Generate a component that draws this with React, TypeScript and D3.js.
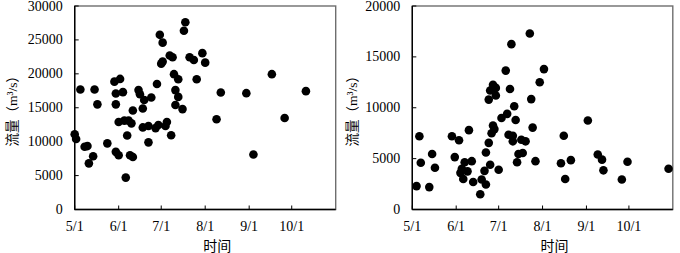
import React from "react";
import * as d3 from "d3";

// Left panel data (date M/D, flow m³/s)
const leftDates = [
  "5/1", "5/2", "5/5", "5/8", "5/10", "5/11", "5/14", "5/15", "5/17", "5/24",
  "5/29", "5/30", "5/30", "5/30", "6/1", "6/2", "6/1", "6/4", "6/5", "6/6",
  "6/7", "6/8", "6/10", "6/9", "6/11", "6/11", "6/15", "6/16", "6/18", "6/18",
  "6/19", "6/22", "6/22", "6/24", "6/27", "6/28", "6/29", "6/30", "7/2", "7/1",
  "7/2", "7/4", "7/5", "7/7", "7/8", "7/9", "7/10", "7/11", "7/11", "7/13",
  "7/13", "7/16", "7/17", "7/18", "7/21", "7/24", "7/26", "7/30", "8/1", "8/9",
  "8/12", "8/30", "9/4", "9/17", "9/26", "10/11",
];
const leftFlows = [
  11100, 10400, 17700, 9250, 9350, 6800, 7850, 17700, 15500, 9750,
  18850, 15500, 17100, 8500, 8000, 19250, 12900, 17300, 13100, 4700,
  10900, 13100, 12700, 8000, 7750, 14600, 17600, 17000, 14900, 12100,
  16150, 12300, 9900, 16500, 12000, 18500, 12450, 25750, 21800, 21500,
  24600, 12300, 12900, 22700, 10950, 22450, 19950, 17600, 15400, 16600,
  19200, 14800, 26350, 27600, 22450, 22050, 19200, 23050, 21650, 13300,
  17250, 17150, 8100, 19950, 13500, 17450,
];

// Right panel data
const rightDates = [
  "5/4", "5/6", "5/7", "5/13", "5/15", "5/17", "5/29", "5/31", "6/3", "6/4",
  "6/5", "6/6", "6/7", "6/9", "6/10", "6/12", "6/13", "6/18", "6/19", "6/21",
  "6/22", "6/22", "6/24", "6/24", "6/25", "6/25", "6/26", "6/27", "6/27", "6/28",
  "6/29", "6/29", "7/1", "7/3", "7/6", "7/7", "7/8", "7/9", "7/10", "7/11",
  "7/11", "7/12", "7/13", "7/14", "7/15", "7/17", "7/18", "7/20", "7/23", "7/24",
  "7/25", "7/27", "7/30", "8/2", "8/14", "8/16", "8/17", "8/21", "9/2", "9/9",
  "9/12", "9/13", "9/26", "9/30", "10/29",
];
const rightFlows = [
  2300, 7200, 4600, 2200, 5450, 4100, 7200, 5150, 6800, 3600,
  4000, 3000, 4650, 3750, 7800, 4750, 2700, 1500, 2950, 3800,
  2450, 5600, 6550, 10800, 11700, 4400, 7500, 12250, 8250, 7900,
  11950, 11200, 3900, 9000, 13650, 9400, 7350, 11850, 16250, 7250,
  6700, 10150, 8800, 4650, 5450, 6850, 5550, 6700, 17300, 10850,
  8050, 4750, 12500, 13800, 4550, 7250, 3000, 4850, 8750, 5400,
  4900, 3850, 2950, 4700, 4000,
];

const monthTicks = ["5/1", "6/1", "7/1", "8/1", "9/1", "10/1"];
const xDomain = ["5/1", "11/1"];
const leftYTicks = [0, 5000, 10000, 15000, 20000, 25000, 30000];
const rightYTicks = [0, 5000, 10000, 15000, 20000];
const xTitle = "时间";
const yTitle = "流量（m³/s）";

const parse = (s: string) => d3.timeParse("%Y/%m/%d")("2001/" + s) as Date;

const FONT = "'Liberation Serif', 'Times New Roman', 'Noto Sans CJK SC', serif";

type PanelProps = {
  left: number;
  right: number;
  top: number;
  bottom: number;
  yTicks: number[];
  dates: string[];
  flows: number[];
  yTitleX: number;
};

function Panel({ left, right, top, bottom, yTicks, dates, flows, yTitleX }: PanelProps) {
  const x = d3.scaleTime().domain(xDomain.map(parse)).range([left, right]);
  const y = d3
    .scaleLinear()
    .domain([0, yTicks[yTicks.length - 1]])
    .range([bottom, top]);
  return (
    <g>
      <rect
        x={left}
        y={top}
        width={right - left}
        height={bottom - top}
        fill="none"
        stroke="#6e6e6e"
        strokeWidth={1.4}
      />
      <line x1={left} x2={left} y1={top} y2={bottom} stroke="#000" strokeWidth={1.4} />
      <line x1={left} x2={right} y1={bottom} y2={bottom} stroke="#000" strokeWidth={1.4} />
      {yTicks.map((t) => (
        <g key={t}>
          <line x1={left} x2={left + 4} y1={y(t)} y2={y(t)} stroke="#000" strokeWidth={1} />
          <text
            x={left - 12}
            y={y(t)}
            textAnchor="end"
            dominantBaseline="central"
            fontSize={14}
            fontFamily={FONT}
            fill="#000"
          >
            {t}
          </text>
        </g>
      ))}
      {monthTicks.map((m) => {
        const px = x(parse(m));
        return (
          <g key={m}>
            <line x1={px} x2={px} y1={bottom} y2={bottom - 4} stroke="#000" strokeWidth={1} />
            <text
              x={px}
              y={bottom + 21}
              textAnchor="middle"
              fontSize={14}
              fontFamily={FONT}
              fill="#000"
            >
              {m}
            </text>
          </g>
        );
      })}
      {dates.map((d, i) => (
        <circle key={i} cx={x(parse(d))} cy={y(flows[i])} r={4.3} fill="#000" />
      ))}
      <text
        x={(left + right) / 2 + 12}
        y={bottom + 41}
        textAnchor="middle"
        fontSize={14}
        fontFamily={FONT}
        fill="#000"
      >
        {xTitle}
      </text>
      <text
        transform={`translate(${yTitleX},${(top + bottom) / 2}) rotate(-90)`}
        textAnchor="middle"
        dominantBaseline="central"
        fontSize={13.5}
        fontFamily={FONT}
        fill="#000"
      >
        {yTitle}
      </text>
    </g>
  );
}

export default function App() {
  return (
    <svg
      width={680}
      height={253}
      style={{ position: "absolute", left: 0, top: 0, background: "#fff" }}
    >
      <rect width={680} height={253} fill="#fff" />
      <Panel
        left={74.7}
        right={335.7}
        top={6}
        bottom={209.5}
        yTicks={leftYTicks}
        dates={leftDates}
        flows={leftFlows}
        yTitleX={12}
      />
      <Panel
        left={412.3}
        right={672.8}
        top={6}
        bottom={209.5}
        yTicks={rightYTicks}
        dates={rightDates}
        flows={rightFlows}
        yTitleX={352}
      />
    </svg>
  );
}
